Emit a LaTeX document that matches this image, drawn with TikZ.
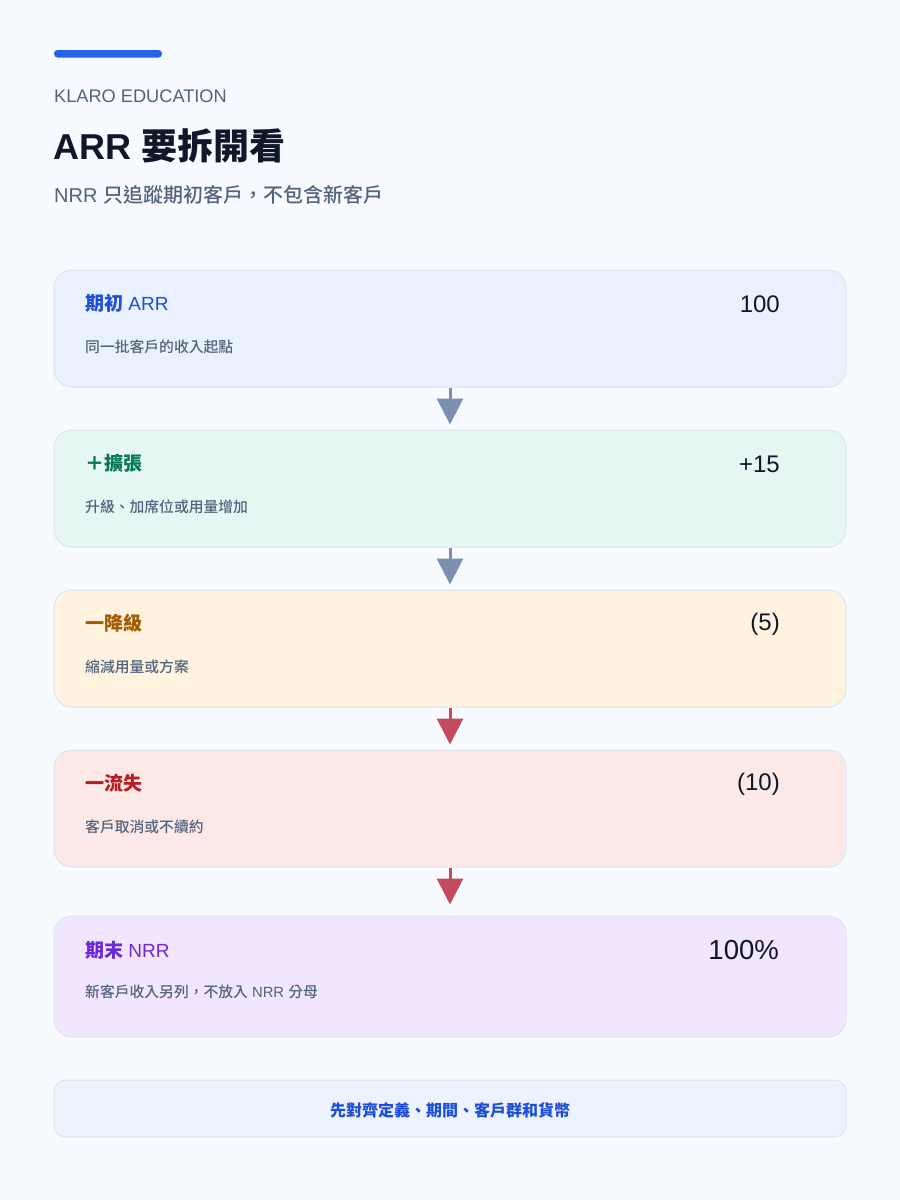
\documentclass[tikz,border=0pt]{standalone}
\usepackage{fontspec}
\setmainfont{Liberation Sans}
\newfontfamily\cjk{Noto Sans CJK TC}
\newfontfamily\cjkm{Noto Sans CJK TC Medium}
\usetikzlibrary{arrows.meta}
\definecolor{bgc}{HTML}{F7FAFF}
\definecolor{barc}{HTML}{2563EB}
\definecolor{slatec}{HTML}{52637D}
\definecolor{inkc}{HTML}{0F172A}
\definecolor{edgec}{HTML}{DCE5F1}
\definecolor{f1}{HTML}{E8F1FD}
\definecolor{f2}{HTML}{E6F6F2}
\definecolor{f3}{HTML}{FFF3E0}
\definecolor{f4}{HTML}{FDE8E8}
\definecolor{f5}{HTML}{F1E6FD}
\definecolor{f6}{HTML}{EDF3FE}
\definecolor{t1}{HTML}{1D4ED8}
\definecolor{t2}{HTML}{047857}
\definecolor{t3}{HTML}{A35A00}
\definecolor{t4}{HTML}{B91C1C}
\definecolor{t5}{HTML}{6D28D9}
\definecolor{arrg}{HTML}{7B90B0}
\definecolor{arrr}{HTML}{C44A5F}
\tikzset{
  cardbox/.style={draw=edgec, line width=1pt, rounded corners=18pt, minimum width=792pt, inner sep=0pt},
  cardtitle/.style={anchor=west, inner sep=0pt, font=\fontsize{19}{22}\selectfont},
  carddesc/.style={anchor=west, inner sep=0pt, text=slatec, font=\fontsize{14.8}{18}\selectfont},
  cardval/.style={anchor=east, inner sep=0pt, text=inkc, font=\fontsize{24}{28}\selectfont},
  flowarrow/.style={line width=3pt, -{Triangle[width=26pt,length=26pt]}, shorten >=5pt},
}
\begin{document}
\begin{tikzpicture}[x=1pt,y=-1pt]
\fill[bgc] (0,0) rectangle (900,1200);
\useasboundingbox (0,0) rectangle (900,1200);
% header
\fill[barc, rounded corners=3.5pt] (54,50) rectangle (162,57.5);
\node[anchor=west, inner sep=0pt, text=slatec, font=\fontsize{18.2}{21}\selectfont] (brand) at (54,96) {KLARO EDUCATION};
\node[anchor=west, inner sep=0pt, text=inkc, font=\fontsize{36}{40}\selectfont\bfseries] (title) at (53,146) {ARR {\cjk 要拆開看}};
\node[anchor=west, inner sep=0pt, text=slatec, font=\fontsize{20}{23}\selectfont] (sub) at (54,195) {NRR {\cjkm 只追蹤期初客戶，不包含新客戶}};
% cards
\node[cardbox, fill=f1, minimum height=117pt] (b1) at (450,328.5) {};
\node[cardbox, fill=f2, minimum height=117pt] (b2) at (450,488.5) {};
\node[cardbox, fill=f3, minimum height=117pt] (b3) at (450,648.5) {};
\node[cardbox, fill=f4, minimum height=117pt] (b4) at (450,808.5) {};
\node[cardbox, fill=f5, minimum height=121pt] (b5) at (450,976.5) {};
\node[cardbox, fill=f6, minimum height=57pt, rounded corners=12pt] (b6) at (450,1108.5) {};
% card texts
\node[cardtitle, text=t1] (h1) at (85,303) {{\cjk\bfseries 期初} ARR};
\node[carddesc] (d1) at (85,347) {\cjkm 同一批客戶的收入起點};
\node[cardval] (v1) at (780,304) {100};
\node[cardtitle, text=t2] (h2) at (85,463) {\cjk\bfseries ＋擴張};
\node[carddesc] (d2) at (85,507) {\cjkm 升級、加席位或用量增加};
\node[cardval] (v2) at (780,464) {+15};
\node[cardtitle, text=t3] (h3) at (85,623) {\cjk\bfseries 一降級};
\node[carddesc] (d3) at (85,667) {\cjkm 縮減用量或方案};
\node[cardval] (v3) at (780,624) {(5)};
\node[cardtitle, text=t4] (h4) at (85,783) {\cjk\bfseries 一流失};
\node[carddesc] (d4) at (85,827) {\cjkm 客戶取消或不續約};
\node[cardval] (v4) at (780,784) {(10)};
\node[cardtitle, text=t5] (h5) at (85,950) {{\cjk\bfseries 期末} NRR};
\node[carddesc] (d5) at (85,992) {{\cjkm 新客戶收入另列，不放入} NRR {\cjkm 分母}};
\node[cardval, font=\fontsize{27.5}{30}\selectfont] (v5) at (779,950) {100\%};
\node[inner sep=0pt, text=t1, font=\fontsize{16}{18}\selectfont] (ft) at (450,1110) {\cjk\bfseries 先對齊定義、期間、客戶群和貨幣};
% arrows
\draw[flowarrow, arrg] (b1.south) -- (b2.north);
\draw[flowarrow, arrg] (b2.south) -- (b3.north);
\draw[flowarrow, arrr] (b3.south) -- (b4.north);
\draw[flowarrow, arrr, shorten >=11pt] (b4.south) -- (b5.north);
\end{tikzpicture}
\end{document}
